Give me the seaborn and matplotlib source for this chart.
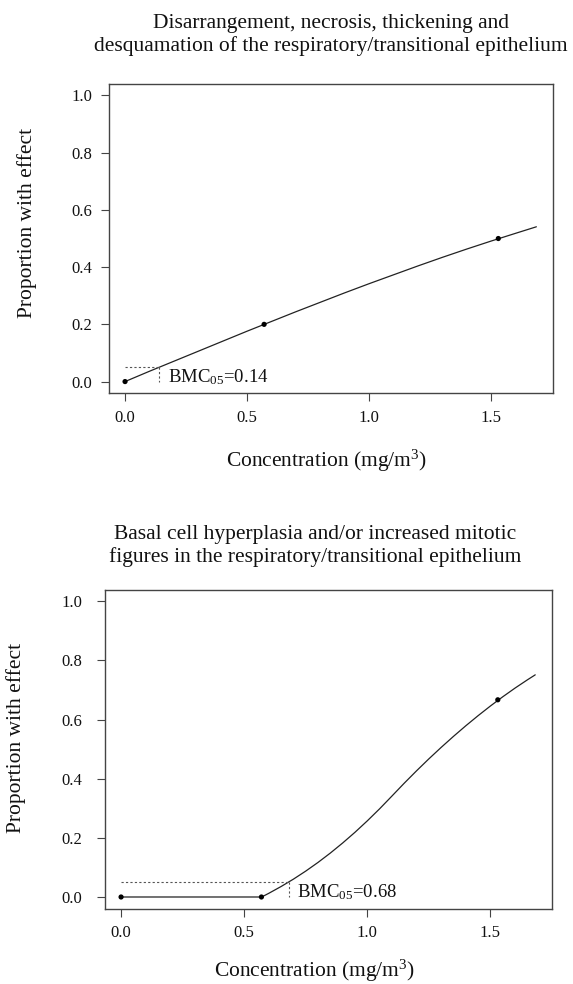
import matplotlib
matplotlib.use("Agg")
import matplotlib.pyplot as plt
import seaborn as sns
import pandas as pd

# ---- data ----
doses = [0.0, 0.57, 1.53]
resp_top = [0.0, 0.20, 0.50]
resp_bottom = [0.0, 0.0, 0.667]

bmr = 0.05
bmc_top = 0.14
bmc_bottom = 0.68

curve_x_top = [0.0, 0.1, 0.2, 0.3, 0.4, 0.5, 0.6, 0.7, 0.8, 0.9, 1.0,
               1.1, 1.2, 1.3, 1.4, 1.5, 1.6, 1.686]
curve_y_top = [0.0, 0.036, 0.071, 0.106, 0.141, 0.176, 0.210, 0.244, 0.277,
               0.310, 0.342, 0.373, 0.404, 0.434, 0.463, 0.491, 0.518, 0.541]

curve_x_bottom = [0.0, 0.571, 0.6, 0.65, 0.7, 0.75, 0.8, 0.85, 0.9, 0.95,
                  1.0, 1.05, 1.1, 1.15, 1.2, 1.25, 1.3, 1.35, 1.4, 1.45,
                  1.5, 1.55, 1.6, 1.65, 1.682]
curve_y_bottom = [0.0, 0.0, 0.0125, 0.0355, 0.0604, 0.0876, 0.117, 0.1487,
                  0.1827, 0.2189, 0.2575, 0.2983, 0.3414, 0.3849, 0.4268,
                  0.4672, 0.506, 0.5433, 0.5791, 0.6133, 0.646, 0.6771,
                  0.7066, 0.7344, 0.7514]

titles = ["Disarrangement, necrosis, thickening and\n"
          "desquamation of the respiratory/transitional epithelium",
          "Basal cell hyperplasia and/or increased mitotic\n"
          "figures in the respiratory/transitional epithelium"]
xlabel = "Concentration (mg/m$^{3}$)"
ylabel = "Proportion with effect"
xticks = [0.0, 0.5, 1.0, 1.5]
yticks = [0.0, 0.2, 0.4, 0.6, 0.8, 1.0]

# ---- style ----
sns.set_theme(style="ticks")
plt.rcParams["font.family"] = ["Liberation Serif", "DejaVu Serif"]
plt.rcParams["mathtext.fontset"] = "custom"
plt.rcParams["mathtext.rm"] = "Liberation Serif"
plt.rcParams["mathtext.it"] = "Liberation Serif:italic"

W, H = 573.0, 984.0
fig = plt.figure(figsize=(W / 100, H / 100), dpi=100)

panels = [
    dict(rect=[0.1897, 0.6006, 0.7749, 0.3140], resp=resp_top,
         cx=curve_x_top, cy=curve_y_top, bmc=bmc_top,
         title_xy=(331, 35), xlim=(-0.067, 1.753), ylab_xy=(27.5, 223),
         ypad=6, xlabpad=16, xlab_x=0.49),
    dict(rect=[0.1825, 0.0764, 0.7808, 0.3245], resp=resp_bottom,
         cx=curve_x_bottom, cy=curve_y_bottom, bmc=bmc_bottom,
         title_xy=(315, 546), xlim=(-0.067, 1.750), ylab_xy=(16, 738),
         ypad=10, xlabpad=12, xlab_x=0.47),
]

edge = "#444444"
txt = "#111111"
for i, p in enumerate(panels):
    ax = fig.add_axes(p["rect"])
    cdf = pd.DataFrame({"x": p["cx"], "y": p["cy"]})
    sns.lineplot(data=cdf, x="x", y="y", ax=ax, color="#222222", lw=0.9,
                 sort=False, estimator=None)
    pdf = pd.DataFrame({"dose": doses, "resp": p["resp"]})
    sns.scatterplot(data=pdf, x="dose", y="resp", ax=ax, color="black",
                    s=14, edgecolor="none", zorder=5)
    # BMC reference lines
    ax.plot([0.0, p["bmc"]], [bmr, bmr], color="#555555", lw=0.8,
            ls=(0, (2, 2)))
    ax.plot([p["bmc"], p["bmc"]], [bmr, 0.0], color="#555555", lw=0.8,
            ls=(0, (2, 2)))
    ax.text(p["bmc"] + 0.035, 0.017, "BMC$_{05}$=%.2f" % p["bmc"],
            ha="left", va="center", fontsize=13.5, color=txt)

    ax.set_xlim(*p["xlim"])
    ax.set_ylim(-0.04, 1.04)
    ax.set_xticks(xticks)
    ax.set_xticklabels(["%.1f" % t for t in xticks])
    ax.set_yticks(yticks)
    ax.set_yticklabels(["%.1f" % t for t in yticks])
    ax.tick_params(axis="both", labelsize=12, length=6, width=0.8,
                   color=edge, labelcolor=txt, direction="out")
    ax.tick_params(axis="x", pad=6)
    ax.tick_params(axis="y", pad=p["ypad"])
    for s in ax.spines.values():
        s.set_visible(True)
        s.set_color(edge)
        s.set_linewidth(1.0)
    ax.set_xlabel(xlabel, fontsize=15.5, labelpad=p["xlabpad"], color=txt,
                  x=p["xlab_x"], ha="center")
    ax.set_ylabel("")
    fig.text(p["ylab_xy"][0] / W, 1 - p["ylab_xy"][1] / H, ylabel,
             rotation=90, ha="center", va="center", fontsize=15.5, color=txt)
    fig.text(p["title_xy"][0] / W, 1 - p["title_xy"][1] / H, titles[i],
             ha="center", va="center", fontsize=15.5, linespacing=1.2,
             color=txt)

fig.savefig("out.png", dpi=100)
